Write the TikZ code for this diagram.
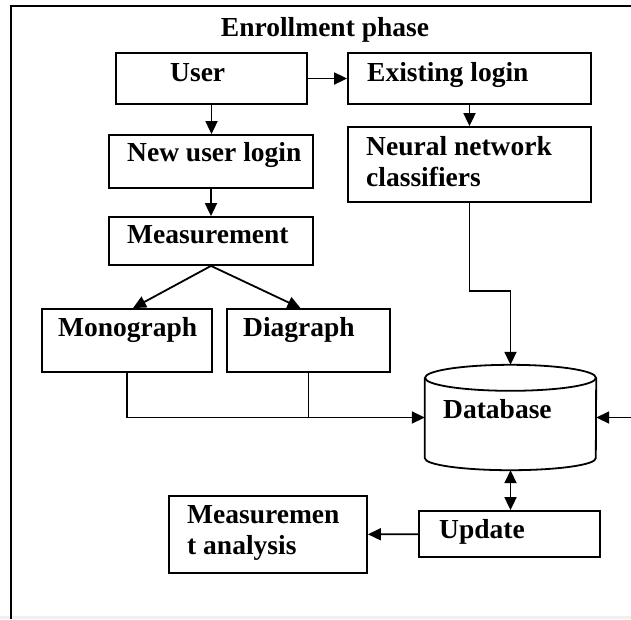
\documentclass[tikz,border=0pt]{standalone}
\usepackage{fontspec}
\setmainfont{Liberation Serif}
\usetikzlibrary{arrows.meta}

\tikzset{
  box/.style={draw, line width=1.8pt, inner sep=0pt},
  txt/.style={anchor=base west, inner sep=0pt, align=left},
  arr/.style={line width=1.8pt, -{Triangle[length=13pt,width=12pt]}},
  dbl/.style={line width=1.8pt, {Triangle[length=13pt,width=12pt]}-{Triangle[length=13pt,width=12pt]}},
  lnk/.style={line width=1.8pt}
}

\begin{document}
\begin{tikzpicture}[x=1pt,y=-1pt,font=\fontsize{27.5}{31}\selectfont\bfseries]
  \useasboundingbox (0,0) rectangle (631,619);
  \fill[black!6] (0,616) rectangle (631,619);
  \draw[line width=2.8pt] (11,619) -- (11,6) -- (631,6);

  \node[anchor=base, inner sep=0pt] (tTitle) at (325,36) {Enrollment phase};

  \foreach \n/\x/\y/\w/\h in {user/211.5/78.5/191/51, exist/469.5/78.5/243/51,
      newu/211/161.5/204/53, neural/469.5/164.5/243/75, meas/211/241/204/48,
      mono/127/340.5/170/63, diag/308.5/340.5/163/63, upd/509.5/534/181/46,
      ana/268/534.5/198/77}{
    \node[box, minimum width=\w pt, minimum height=\h pt] (\n) at (\x,\y) {};
  }
  \node[inner sep=0pt, minimum width=171pt, minimum height=105pt] (db) at (510.5,417.5) {};
  \draw[lnk] ([yshift=-13pt]db.north) ellipse [x radius=85.5pt, y radius=13pt];
  \draw[lnk] ([yshift=-13pt]db.north west) -- ([yshift=12pt]db.south west)
    arc[start angle=180, end angle=360, x radius=85.5pt, y radius=12pt]
    -- ([yshift=-13pt]db.north east);

  \node[txt] (tUser) at (170,81) {User};
  \node[txt] (tExist) at (367,81) {Existing login};
  \node[txt] (tNewu) at (127,161) {New user login};
  \node[txt] (tNeural) at (366,186) {Neural network\\classifiers};
  \node[txt] (tMeas) at (127,243) {Measurement};
  \node[txt] (tMono) at (58,336) {Monograph};
  \node[txt] (tDiag) at (243,336) {Diagraph};
  \node[txt] (tDb) at (443,418) {Database};
  \node[txt] (tUpd) at (439,538) {Update};
  \node[txt] (tAna) at (187,554) {Measuremen\\t analysis};

  \coordinate (rin) at (631,417.5);
  \draw[arr] (user) -- (exist);
  \draw[arr] (user.south) -- (user.south |- newu.north);
  \draw[arr] (newu.south) -- (meas.north);
  \draw[arr] (exist.south) -- (neural.north);
  \draw[arr] (meas.south) -- ([xshift=6pt]mono.north);
  \draw[arr] (meas.south) -- ([xshift=-8pt]diag.north);
  \draw[arr] (neural.south) -- ++(0,88) -| (db.north);
  \draw[arr] (mono.south) |- (db.west);
  \draw[lnk] (diag.south) -- (diag.south |- db.west);
  \draw[arr] (rin) -- (db.east);
  \draw[dbl] (db.south) -- (db.south |- upd.north);
  \draw[arr] (upd) -- (ana);
\end{tikzpicture}
\end{document}
